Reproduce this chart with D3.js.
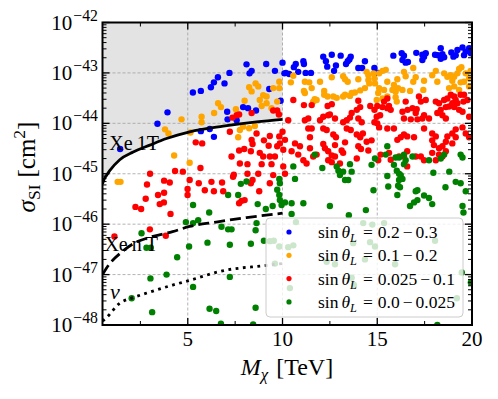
<!DOCTYPE html>
<html>
<head>
<meta charset="utf-8">
<script src="https://cdn.jsdelivr.net/npm/d3@7"></script>
<style>
  body { margin: 0; background: #fff; }
  text { font-family: "Liberation Serif", "DejaVu Serif", serif; fill: #000; }
</style>
</head>
<body>
<svg width="498" height="399"></svg>
<script>
// scan points [M_chi (TeV), sigma_SI (cm^2)]
var blue = [[5.27,4.1e-44],[3.93,1.65e-44],[3.4,9.8e-45],[1.43,3.1e-45],[5.69,4.4e-44],[6.22,5.2e-44],[6.38,6.5e-44],[6.59,8.2e-44],[6.94,6.2e-44],[7.2,1.0e-43],[8.1,1.48e-43],[8.26,9.8e-44],[8.37,1.1e-43],[9.14,1.5e-43],[9.6,1.1e-43],[10.0,1.6e-43],[10.1,9.8e-44],[9.3,4.8e-44],[7.08,1.7e-44],[7.1,1.2e-44],[7.58,1.15e-44],[7.92,2.1e-44],[8.18,2.0e-44],[8.6,1.8e-44],[6.16,7.7e-45],[6.38,5.4e-45],[5.69,7.0e-45],[9.9,2.8e-44],
  [10.18,1.0e-43],[10.35,9.5e-44],[10.6,1.3e-43],[10.7,1.5e-43],[10.83,1.05e-43],[11.1,1.7e-43],[11.13,1.5e-43],[11.22,1.0e-43],[11.5,1.0e-43],[12.15,2.1e-43],[12.29,1.7e-43],[12.36,1.33e-43],[12.6,2.3e-43],[12.82,1.4e-43],[12.72,1.1e-43],[13.07,2.2e-43],[13.35,1.5e-43],[13.44,1.7e-43],[13.53,1.85e-43],[13.6,2.1e-43],[14.0,1.25e-43],[14.35,1.7e-43],[14.2,1.25e-43],[14.85,1.25e-43],[15.05,1.0e-43],
  [15.85,2.2e-43],[16.29,2.45e-43],[16.41,2.2e-43],[16.33,1.8e-43],[16.5,1.6e-43],[16.62,1.65e-43],[17.06,2.5e-43],[17.38,2.3e-43],[17.47,2.1e-43],[17.56,2.45e-43],[17.38,1.8e-43],[18.05,2.3e-43],[18.2,2.25e-43],[18.35,3.1e-43],[18.44,2.35e-43],[18.53,2.05e-43],[18.91,2.55e-43],[19.02,2.1e-43],[19.14,2.25e-43],[19.23,2.85e-43],[19.5,3.2e-43],[19.67,2.65e-43],[19.85,3.1e-43],[19.94,2.45e-43],[19.58,2.25e-43],[18.35,1.9e-43]];

var orange = [[4.67,1.2e-44],[3.8,7.6e-45],[3.98,6.3e-45],[5.14,6.6e-45],[4.28,2.3e-45],[5.1,1.65e-45],[1.3,6.9e-46],[1.45,6.9e-46],
  [5.73,1.35e-44],[5.73,1.05e-44],[6.39,1.6e-44],[6.6,2.5e-44],[6.75,2.1e-44],[7.54,1.9e-44],[8.0,2.8e-44],[8.24,5.2e-44],[8.37,4.3e-44],[8.58,6.2e-44],[8.72,5.4e-44],[8.8,2.9e-44],[8.98,3.6e-44],[9.16,3.4e-44],[9.16,2.5e-44],[8.9,2.2e-44],[9.51,5.0e-44],[9.83,6.7e-44],[9.83,5.0e-44],[9.72,2.7e-44],[9.42,2.0e-44],[7.75,7.4e-45],[7.92,8.6e-45],[8.24,8.0e-45],[7.66,5.3e-45],[8.54,8.9e-45],
  [10.57,8.8e-44],[10.44,6.5e-44],[11.18,6.7e-44],[11.41,6.5e-44],[11.98,6.7e-44],[11.13,4.4e-44],[11.18,4.0e-44],[11.54,5.0e-44],[12.2,4.4e-44],[12.2,3.7e-44],[11.7,3.0e-44],[11.62,2.7e-44],[11.8,2.9e-44],[12.38,3.4e-44],[12.68,3.4e-44],[12.86,3.2e-44],[12.6,8.2e-44],[13.2,8.6e-44],[13.3,7.5e-44],[13.44,6.7e-44],[14.0,7.5e-44],[14.44,1.05e-43],[14.53,9.0e-44],[14.53,7.2e-44],[14.58,6.2e-44],[14.8,9.8e-44],[14.85,7.8e-44],[14.88,6.2e-44],[14.1,4.5e-44],[13.82,4.1e-44],[13.65,4.0e-44],[13.56,3.5e-44],[14.35,5.0e-44],[13.3,3.7e-44],[13.2,3.4e-44],[15.05,4.0e-44],[14.97,2.9e-44],
  [15.1,9.8e-44],[15.28,1.1e-43],[15.45,1.15e-43],[15.53,6.7e-44],[15.1,5.0e-44],[15.36,4.6e-44],[15.88,5.8e-44],[15.8,4.6e-44],[15.97,4.25e-44],[16.1,5.0e-44],[16.06,7.5e-44],[15.28,3.1e-44],[15.53,3.4e-44],[15.97,3.3e-44],[16.03,2.7e-44],[16.41,1.05e-43],[16.5,8.6e-44],[16.9,1.25e-43],[17.03,8.2e-44],[16.9,6.7e-44],[16.33,4.6e-44],[16.73,4.4e-44],[17.43,4.6e-44],[17.47,7.0e-44],[17.9,9.0e-44],[18.09,1.1e-43],[18.53,9.8e-44],[18.7,8.4e-44],[18.88,9.0e-44],[19.06,8.4e-44],[19.23,9.8e-44],[19.32,1.2e-43],[19.44,1.3e-43],[19.67,9.8e-44],[19.93,1.1e-43],[19.85,7.8e-44],[19.58,6.7e-44],[19.4,6.5e-44],[18.17,6.7e-44],[18.96,7.0e-44],[19.85,5.4e-44],[18.79,5.0e-44],[19.06,5.4e-44],[19.32,4.6e-44]];

var red = [[5.42,4.2e-45],[4.33,1.13e-45],[4.74,1.1e-45],[3.01,1.0e-45],
  [7.36,1.3e-44],[7.58,1.45e-44],[7.71,1.5e-44],[8.37,1.6e-44],[9.51,1.8e-44],[9.72,1.8e-44],[9.81,1.5e-44],[7.22,6.8e-45],[5.76,4.0e-45],[8.37,4.7e-45],[8.42,3.9e-45],[8.63,6.3e-45],[9.33,5.6e-45],[9.02,4.6e-45],[9.27,3.6e-45],[7.71,2.9e-45],[7.98,3.1e-45],[7.31,2.2e-45],[8.33,2.8e-45],[8.8,2.6e-45],[8.98,2.2e-45],[9.33,2.2e-45],[9.6,2.2e-45],[9.72,3.5e-45],[7.75,1.6e-45],[8.15,1.55e-45],[8.9,1.55e-45],[9.42,1.55e-45],[5.67,1.3e-45],[7.43,9.6e-46],[8.72,1.0e-45],
  [2.85,6.1e-46],[3.75,7.3e-46],[4.05,6.7e-46],[3.43,3.8e-46],[3.75,4.2e-46],[3.52,2.5e-46],[3.74,2.7e-46],[2.78,3.2e-46],[2.24,2.2e-46],[2.54,2.0e-46],[4.09,1.6e-46],[4.99,5.0e-46],[4.99,3.8e-46],[5.1,7.5e-46],[1.13,5.7e-47],[3.0,7.9e-47],[3.84,5.9e-47],
  [7.39,8.7e-46],[8.15,1.0e-45],[8.42,7.5e-46],[8.33,6.5e-46],[5.58,6.5e-46],[6.25,6.9e-46],[6.81,6.7e-46],[5.9,4.7e-46],[6.38,4.5e-46],[6.87,4.5e-46],[7.71,2.6e-46],[7.84,2.9e-46],[8.0,3.0e-46],[8.77,4.5e-46],[9.33,6.5e-46],[9.51,9.4e-46],
  [10.57,2.9e-44],[11.13,2.3e-44],[11.54,2.3e-44],[12.38,2.2e-44],[12.6,2.4e-44],[14.0,2.8e-44],[14.1,2.1e-44],[13.92,1.85e-44],[13.65,1.6e-44],[13.56,1.3e-44],[13.39,1.15e-44],[13.2,1.05e-44],[14.63,2.2e-44],[14.85,1.85e-44],[14.97,1.35e-44],[15.15,1.45e-44],[10.3,1.15e-44],[11.18,1.15e-44],[11.36,1.25e-44],[11.98,1.15e-44],[12.15,1.35e-44],[12.41,1.45e-44],[12.5,1.5e-44],[12.77,1.25e-44],[14.0,1.25e-44],[14.18,1.05e-44],[11.36,7.9e-45],[11.54,7.9e-45],[12.15,7.9e-45],[12.33,7.4e-45],[13.39,7.9e-45],[13.6,7.4e-45],[12.68,6.0e-45],[12.82,5.3e-45],[11.45,5.3e-45],[13.92,6.0e-45],[14.1,5.3e-45],[14.24,6.3e-45],[10.13,4.7e-45],[14.44,4.3e-45],[14.7,4.6e-45],[10.66,4.0e-45],[10.92,3.5e-45],[11.45,3.2e-45],[12.15,3.9e-45],[12.24,3.2e-45],[12.77,3.7e-45],[13.3,4.2e-45],[12.41,2.8e-45],[12.6,2.3e-45],[12.77,2.2e-45],[13.12,2.9e-45],[13.2,2.6e-45],[14.0,3.5e-45],[14.14,3.1e-45],[14.53,2.9e-45],[10.04,3.0e-45],[10.48,2.8e-45],[10.83,2.4e-45],[11.62,2.2e-45],[11.8,2.4e-45],[11.1,1.85e-45],[11.27,1.6e-45],[12.41,1.85e-45],[12.6,1.7e-45],[13.92,2.0e-45],[13.03,1.6e-45],[15.05,1.85e-45],[10.04,1.4e-45],[10.13,1.0e-45],[10.0,6.8e-45],[9.83,5.5e-45],[9.86,4.0e-45],
  [15.53,3.1e-44],[15.36,2.7e-44],[15.53,2.0e-44],[15.27,2.1e-44],[15.71,1.85e-44],[15.62,2.2e-44],[15.0,2.2e-44],[16.5,2.7e-44],[16.33,1.7e-44],[16.6,1.85e-44],[16.86,2.0e-44],[17.2,3.4e-44],[17.3,2.7e-44],[17.56,2.9e-44],[17.08,1.9e-44],[17.03,1.6e-44],[16.41,1.25e-44],[16.77,1.2e-44],[17.12,1.2e-44],[17.38,1.25e-44],[17.47,1.45e-44],[18.09,2.7e-44],[18.26,2.5e-44],[18.53,2.9e-44],[18.7,3.1e-44],[18.88,3.7e-44],[19.06,3.4e-44],[19.14,2.9e-44],[19.23,2.5e-44],[18.96,2.5e-44],[18.79,2.15e-44],[18.62,2.1e-44],[18.35,1.85e-44],[18.17,1.6e-44],[18.44,1.45e-44],[18.62,1.25e-44],[19.06,2.1e-44],[19.32,1.85e-44],[19.55,2.7e-44],[19.76,2.9e-44],[19.58,3.7e-44],[19.4,3.7e-44],[17.73,1.25e-44],[19.85,1.35e-44],[19.5,1.7e-44],
  [14.85,1.05e-44],[15.0,1.0e-44],[15.1,8.3e-45],[15.53,7.9e-45],[15.88,7.9e-45],[16.41,6.0e-45],[16.58,5.5e-45],[16.94,5.3e-45],[16.24,5.3e-45],[16.06,4.7e-45],[17.47,7.9e-45],[17.9,6.3e-45],[18.09,5.5e-45],[17.9,4.6e-45],[17.99,3.7e-45],[18.26,3.2e-45],[18.44,3.5e-45],[18.62,4.3e-45],[18.7,5.5e-45],[18.96,6.3e-45],[19.14,7.6e-45],[19.5,8.3e-45],[19.14,5.3e-45],[18.96,4.0e-45],[18.62,2.8e-45],[18.44,2.2e-45],[18.26,2.4e-45],[17.9,2.6e-45],[18.09,1.85e-45],[17.47,1.85e-45],[17.3,2.2e-45],[17.03,2.2e-45],[16.58,2.8e-45],[16.41,2.2e-45],[16.15,2.2e-45],[15.62,2.6e-45],[15.18,2.4e-45],[15.71,1.9e-45],[19.67,6.3e-45],[19.85,5.3e-45],[16.58,1.4e-45]];

var green = [[5.28,2.4e-46],[4.9,1.1e-46],[5.28,1.05e-46],[2.56,6.6e-47],[2.82,3.4e-47],[3.05,3.4e-47],[5.07,3.6e-47],[4.44,2.2e-47],[3.03,8.4e-48],[3.88,1.0e-47],[5.28,5.7e-48],[2.04,3.4e-48],[3.12,1.8e-48],[6.15,2.1e-48],[6.5,1.9e-48],[6.75,1.06e-48],
  [9.83,7.9e-46],[9.86,6.5e-46],[9.72,4.8e-46],[9.83,3.8e-46],[9.86,3.0e-46],[9.95,2.4e-46],[7.8,6.3e-46],[8.1,7.0e-46],[7.66,3.8e-46],[7.13,3.8e-46],[8.69,2.5e-46],[9.12,2.0e-46],[9.48,2.3e-46],[6.13,1.7e-46],[5.55,1.2e-46],[6.78,8.9e-47],[7.13,7.9e-47],[7.31,7.9e-47],[8.63,1.05e-46],[8.58,7.6e-47],[6.04,4.3e-47],[7.22,3.9e-47],[8.33,4.1e-47],[9.02,4.7e-47],[7.22,9.0e-48],[8.58,2.2e-48],[8.45,1.02e-48],
  [9.33,4.6e-47],[9.54,4.7e-47],[9.83,3.6e-47],[9.6,1.65e-47],[10.71,1.1e-46],[10.3,3.5e-47],[10.39,5.4e-48],[12.33,1.8e-47],[12.77,1.6e-47],[13.65,8.7e-48],[14.62,4.4e-47],[14.35,2.0e-47],[10.57,3.8e-47],[13.73,4.2e-47],[14.26,1.05e-46],[14.74,9.8e-47],[14.88,3.6e-47],[13.77,6.2e-48],[15.94,1.6e-47],[18.05,4.7e-47],[19.46,1.1e-47],[19.2,3.4e-48],[15.36,1.05e-46],
  [11.7,2.4e-45],[10.57,1.4e-45],[12.1,1.3e-45],[12.86,1.4e-45],[12.95,1.15e-45],[13.56,1.55e-45],[13.2,1.1e-45],[14.7,1.5e-45],[14.88,2.0e-45],[10.66,7.9e-46],[10.13,2.7e-46],[10.48,2.6e-46],[11.1,2.6e-46],[10.48,1.6e-46],[12.5,2.3e-46],[13.3,7.5e-46],[13.47,7.5e-46],[13.65,1.1e-45],[14.8,4.7e-46],[14.4,1.9e-46],[13.5,1.5e-46],[13.03,9.4e-46],
  [15.53,9.0e-46],[16.24,9.4e-46],[16.33,7.9e-46],[16.15,7.5e-46],[15.58,5.6e-46],[16.1,5.8e-46],[16.2,5.4e-46],[16.06,3.8e-46],[17.03,4.5e-46],[17.12,4.7e-46],[16.94,2.7e-46],[17.12,3.0e-46],[16.73,2.3e-46],[17.47,3.7e-46],[17.73,3.3e-46],[17.96,1.05e-45],[17.9,2.5e-46],[18.6,5.4e-46],[19.14,6.9e-46],[19.4,6.5e-46],[19.67,4.5e-46],[19.5,2.3e-46],[19.55,1.7e-46],[18.8,1.1e-45],[18.17,1.0e-48],[19.94,7.0e-48],
  [15.53,3.5e-45],[15.45,2.4e-45],[15.97,2.1e-45],[16.15,2.1e-45],[16.41,2.4e-45],[16.5,1.85e-45],[16.41,1.55e-45],[16.86,2.2e-45],[15.88,1.5e-45],[17.73,1.85e-45],[18.53,2.4e-45],[18.35,2.0e-45],[19.4,2.4e-45],[19.5,2.1e-45],[16.03,1.15e-45],[16.15,1.0e-45]];

// limit curves [M_chi, sigma]
var xe1t = [[0.5,6.3e-46],[0.6,8.0e-46],[0.72,9.4e-46],[0.88,1.15e-45],[1.41,1.9e-45],[2.12,2.7e-45],[3.0,3.7e-45],[3.88,5.0e-45],[5.1,6.8e-45],[6.87,8.8e-45],[8.63,1.07e-44],[10.0,1.2e-44]];
var xennt = [[0.5,1.0e-47],[0.88,1.65e-47],[1.14,2.1e-47],[1.41,2.6e-47],[2.12,4.1e-47],[3.0,5.5e-47],[4.2,7.1e-47],[5.1,9.0e-47],[6.5,1.1e-46],[8.1,1.35e-46],[10.0,1.65e-46]];
var nufloor = [[0.5,1.2e-48],[0.67,1.35e-48],[1.41,2.7e-48],[2.12,3.5e-48],[3.0,4.5e-48],[4.2,6.2e-48],[5.0,7.5e-48],[6.9,1.2e-47],[9.0,1.5e-47],[10.0,1.65e-47]];

var xTicks = [5, 10, 15, 20];
var xMinor = [2.5, 7.5, 12.5, 17.5];
var yExps = [-48, -47, -46, -45, -44, -43, -42];

// sin(theta_L) ranges
var rangeLo = ["0.2", "0.1", "0.025", "0.0"];
var rangeHi = ["0.3", "0.2", "0.1", "0.025"];
var colors = ["blue", "orange", "red", "green"];
var allPts = [blue, orange, red, green];

var svg = d3.select("svg");
var L = 102.5, R = 472, T = 22.5, B = 325;

var x = d3.scaleLinear().domain([0.5, 20]).range([L, R]);
var y = d3.scaleLog().domain([1e-48, 1e-42]).range([B, T]);

// excluded region above Xe1T
svg.append("path")
  .datum(xe1t)
  .attr("fill", "#e3e3e3")
  .attr("d", d3.area().x(function(d) { return x(d[0]); }).y0(y(1e-42)).y1(function(d) { return y(d[1]); }).curve(d3.curveMonotoneX));

// grid
var grid = svg.append("g").attr("stroke", "#a0a0a0").attr("stroke-width", 0.8).attr("stroke-dasharray", "3,2");
xTicks.slice(0, 3).forEach(function(v) {
  grid.append("line").attr("x1", x(v)).attr("x2", x(v)).attr("y1", T).attr("y2", B);
});
yExps.slice(1, 6).forEach(function(e) {
  grid.append("line").attr("x1", L).attr("x2", R).attr("y1", y(Math.pow(10, e))).attr("y2", y(Math.pow(10, e)));
});

// scatter points
svg.append("clipPath").attr("id", "clip").append("rect")
  .attr("x", L).attr("y", T).attr("width", R - L).attr("height", B - T);
var pg = svg.append("g").attr("clip-path", "url(#clip)");
allPts.forEach(function(pts, i) {
  pg.append("g").selectAll("circle")
    .data(pts)
    .enter().append("circle")
    .attr("cx", function(d) { return x(d[0]); })
    .attr("cy", function(d) { return y(d[1]); })
    .attr("r", 3.2)
    .attr("fill", colors[i]);
});

// limit lines
var line = d3.line().x(function(d) { return x(d[0]); }).y(function(d) { return y(d[1]); }).curve(d3.curveMonotoneX);
pg.append("path").datum(xe1t).attr("d", line).attr("fill", "none").attr("stroke", "#000").attr("stroke-width", 2.8);
pg.append("path").datum(xennt).attr("d", line).attr("fill", "none").attr("stroke", "#000").attr("stroke-width", 2.8).attr("stroke-dasharray", "11,5");
pg.append("path").datum(nufloor).attr("d", line).attr("fill", "none").attr("stroke", "#000").attr("stroke-width", 2.8).attr("stroke-dasharray", "2.8,4.5");

function rich(sel, parts, size) {
  parts.forEach(function(p) {
    var t = sel.append("tspan").text(p.t).attr("font-size", p.small ? size * (p.small === true ? 0.7 : p.small) : size);
    if (p.it) t.attr("font-style", "italic");
    if (p.dy) t.attr("dy", p.dy);
    if (p.dx) t.attr("dx", p.dx);
  });
  return sel;
}

// curve labels
rich(svg.append("text").attr("x", x(0.86)).attr("y", y(3.0e-45)), [{t: "Xe\u20091T"}], 20);
rich(svg.append("text").attr("x", x(0.6)).attr("y", y(3.0e-47)), [{t: "Xe\u2009n\u2009T"}], 20);
rich(svg.append("text").attr("x", x(0.9)).attr("y", y(3.3e-48)), [{t: "\u03bd", it: true}], 22);

// legend
var lg = svg.append("g");
lg.append("rect").attr("x", 266).attr("y", 218).attr("width", 197).attr("height", 99).attr("rx", 4)
  .attr("fill", "#fff").attr("fill-opacity", 0.8).attr("stroke", "#cccccc").attr("stroke-width", 1);
colors.forEach(function(c, i) {
  var cy = 232 + i * 23.3;
  lg.append("circle").attr("cx", 289).attr("cy", cy).attr("r", 2.6).attr("fill", c);
  rich(lg.append("text").attr("x", 318).attr("y", cy + 6),
    [{t: "sin"}, {t: "\u03b8", it: true, dx: 3}, {t: "L", it: true, small: true, dy: 4},
     {t: "=", dx: 6, dy: -4}, {t: rangeLo[i], dx: 5}, {t: "\u2212", dx: 3}, {t: rangeHi[i], dx: 3}], 17.5);
});

// frame and ticks
var ax = svg.append("g").attr("stroke", "#000");
xTicks.forEach(function(v) {
  ax.append("line").attr("x1", x(v)).attr("x2", x(v)).attr("y1", B).attr("y2", B - 7).attr("stroke-width", 1.3);
  ax.append("line").attr("x1", x(v)).attr("x2", x(v)).attr("y1", T).attr("y2", T + 7).attr("stroke-width", 1.3);
});
xMinor.forEach(function(v) {
  ax.append("line").attr("x1", x(v)).attr("x2", x(v)).attr("y1", B).attr("y2", B - 4).attr("stroke-width", 1);
  ax.append("line").attr("x1", x(v)).attr("x2", x(v)).attr("y1", T).attr("y2", T + 4).attr("stroke-width", 1);
});
yExps.forEach(function(e, i) {
  var yy = y(Math.pow(10, e));
  ax.append("line").attr("x1", L).attr("x2", L + 7).attr("y1", yy).attr("y2", yy).attr("stroke-width", 1.3);
  ax.append("line").attr("x1", R).attr("x2", R - 7).attr("y1", yy).attr("y2", yy).attr("stroke-width", 1.3);
  if (i < yExps.length - 1) {
    for (var k = 2; k <= 9; k++) {
      var ym = y(k * Math.pow(10, e));
      ax.append("line").attr("x1", L).attr("x2", L + 4).attr("y1", ym).attr("y2", ym).attr("stroke-width", 1);
      ax.append("line").attr("x1", R).attr("x2", R - 4).attr("y1", ym).attr("y2", ym).attr("stroke-width", 1);
    }
  }
});
svg.append("rect").attr("x", L).attr("y", T).attr("width", R - L).attr("height", B - T)
  .attr("fill", "none").attr("stroke", "#000").attr("stroke-width", 2);

// tick labels
xTicks.forEach(function(v) {
  svg.append("text").attr("x", x(v)).attr("y", 346).attr("text-anchor", "middle").attr("font-size", 21).text(v);
});
yExps.forEach(function(e) {
  rich(svg.append("text").attr("x", 98).attr("y", y(Math.pow(10, e)) + 7).attr("text-anchor", "end"),
    [{t: "10"}, {t: "\u2212" + (-e), small: 0.75, dy: -9, dx: 1}], 21);
});

// axis titles
rich(svg.append("text").attr("x", 287).attr("y", 375).attr("text-anchor", "middle"),
  [{t: "M", it: true}, {t: "\u03c7", it: true, small: true, dy: 5}, {t: " [TeV]", dx: 2, dy: -5}], 24);
rich(svg.append("text").attr("transform", "translate(35,167) rotate(-90)").attr("text-anchor", "middle"),
  [{t: "\u03c3", it: true}, {t: "SI", small: true, dy: 5}, {t: "[cm", dx: 7, dy: -5}, {t: "2", small: true, dy: -10}, {t: "]", dy: 10}], 25);
</script>
</body>
</html>
